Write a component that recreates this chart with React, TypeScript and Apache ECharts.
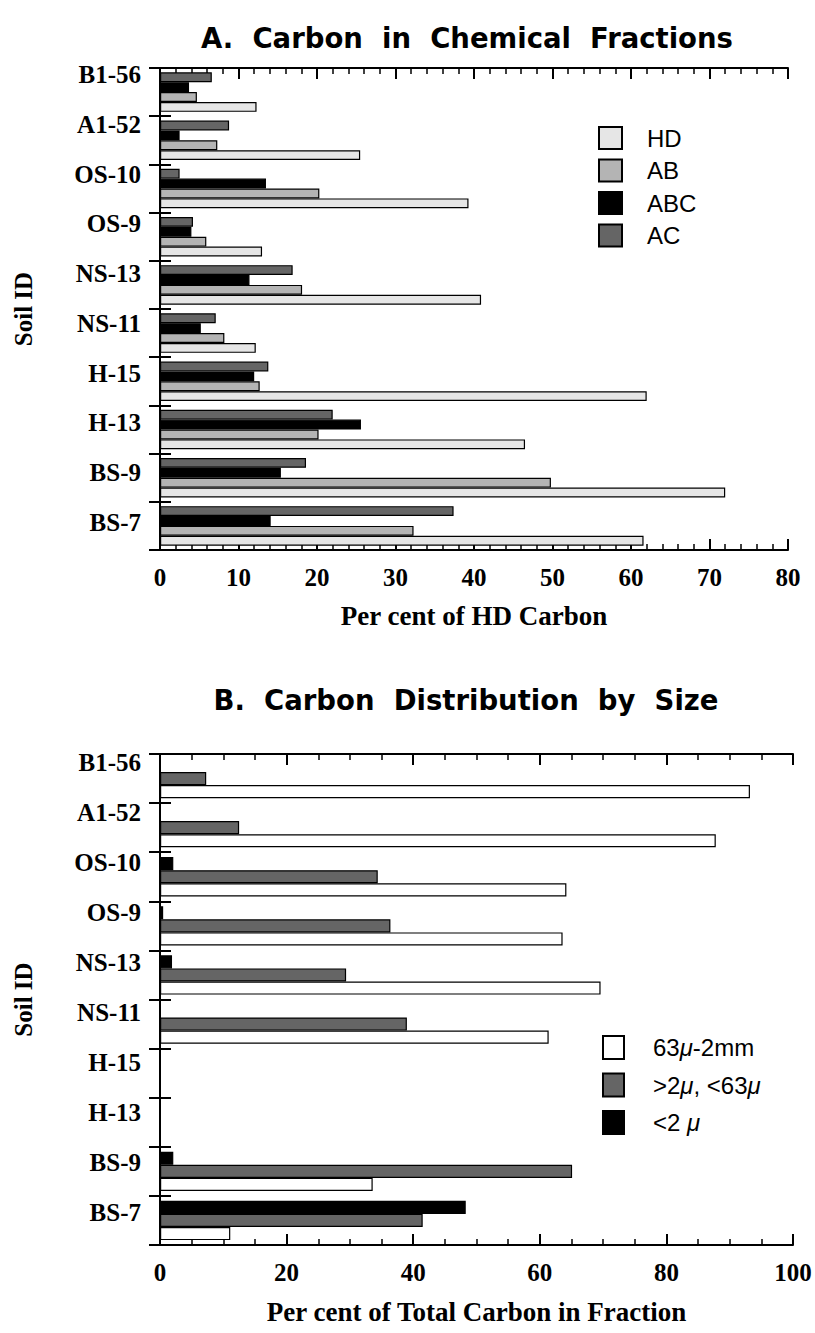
import React, { useEffect, useRef } from 'react';
import * as echarts from 'echarts';

const soilIds = ['B1-56', 'A1-52', 'OS-10', 'OS-9', 'NS-13', 'NS-11', 'H-15', 'H-13', 'BS-9', 'BS-7'];

// A. Carbon in Chemical Fractions (Per cent of HD Carbon)
const hdValues = [12.3, 25.5, 39.3, 13.0, 40.9, 12.2, 62.0, 46.5, 72.0, 61.6];
const abValues = [4.7, 7.3, 20.3, 5.9, 18.1, 8.2, 12.7, 20.2, 49.8, 32.3];
const abcValues = [3.7, 2.5, 13.5, 4.0, 11.4, 5.2, 12.0, 25.6, 15.4, 14.1];
const acValues = [6.6, 8.8, 2.5, 4.2, 16.9, 7.1, 13.8, 22.0, 18.6, 37.4];

// B. Carbon Distribution by Size (Per cent of Total Carbon in Fraction)
const coarseValues = [93.2, 87.8, 64.2, 63.6, 69.6, 61.4, null, null, 33.6, 11.1];
const siltValues = [7.3, 12.5, 34.4, 36.4, 29.4, 39.0, null, null, 65.1, 41.5];
const clayValues = [null, null, 2.1, 0.5, 1.9, null, null, null, 2.1, 48.3];

const legendA = ['HD', 'AB', 'ABC', 'AC'];
const legendB = ['63μ-2mm', '>2μ, <63μ', '<2 μ'];

const SERIF = '"Liberation Serif", "Times New Roman", serif';
const SANS = '"Liberation Sans", Arial, sans-serif';
const TITLE_FONT = '"DejaVu Sans", sans-serif';

function valueAxis(gridIndex: number, position: string, max: number, interval: number, minorSplit: number, showLabel: boolean, name?: string, nameGap?: number) {
  return {
    type: 'value', gridIndex, position, min: 0, max, interval,
    axisLine: { show: true, lineStyle: { color: '#000', width: 2 } },
    axisTick: { show: true, inside: true, length: 11, lineStyle: { color: '#000', width: 2 } },
    minorTick: { show: true, splitNumber: minorSplit, length: 6, lineStyle: { color: '#000', width: 1.5 } },
    splitLine: { show: false },
    minorSplitLine: { show: false },
    axisLabel: { show: showLabel, fontFamily: SERIF, fontWeight: 'bold', fontSize: 25, color: '#000', margin: 15 },
    name: name || '', nameLocation: 'middle', nameGap: nameGap || 0,
    nameTextStyle: { fontFamily: SERIF, fontWeight: 'bold', fontSize: 27, color: '#000' },
  };
}

function catAxis(gridIndex: number, position: string, name?: string) {
  return {
    type: 'category', gridIndex, position, inverse: true, data: soilIds, boundaryGap: true,
    axisLine: { show: true, lineStyle: { color: '#000', width: 2 } },
    axisTick: { show: true, inside: true, length: 11, lineStyle: { color: '#000', width: 2 } },
    axisLabel: { show: false },
    splitLine: { show: false },
    name: name || '', nameLocation: 'middle', nameGap: 124, nameRotate: 90,
    nameTextStyle: { fontFamily: SERIF, fontWeight: 'bold', fontSize: 25, color: '#000' },
  };
}

function labelAxis(gridIndex: number) {
  return {
    type: 'category', gridIndex, position: 'left', inverse: true, data: soilIds,
    axisLine: { show: false }, axisTick: { show: false }, splitLine: { show: false },
    axisLabel: { show: true, fontFamily: SERIF, fontWeight: 'bold', fontSize: 25, color: '#000', margin: 19 },
  };
}

function hiddenX(gridIndex: number) {
  return { type: 'value', gridIndex, min: 0, max: 1, show: false };
}

function barSeries(name: string, data: (number | null)[], color: string, xi: number, yi: number, gap: string) {
  return {
    type: 'bar', name, data, xAxisIndex: xi, yAxisIndex: yi,
    barGap: '0%', barCategoryGap: gap,
    itemStyle: { color, borderColor: '#000', borderWidth: 1.2 },
    emphasis: { disabled: true },
  };
}

export default function App() {
  const ref = useRef<HTMLDivElement>(null);
  useEffect(() => {
    if (!ref.current) return;
    const chart = echarts.init(ref.current, null, { renderer: 'svg' });
    const option = {
      animation: false,
      backgroundColor: '#fff',
      grid: [
        { left: 160, top: 68, width: 628, height: 482 },
        { left: 160, top: 754, width: 633, height: 491 },
        { left: 160, top: 50, width: 628, height: 497 },
        { left: 160, top: 737, width: 633, height: 500 },
      ],
      xAxis: [
        valueAxis(0, 'bottom', 80, 10, 5, true, 'Per cent of HD Carbon', 52),
        valueAxis(0, 'top', 80, 10, 5, false),
        valueAxis(1, 'bottom', 100, 20, 4, true, 'Per cent of Total Carbon in Fraction', 53),
        valueAxis(1, 'top', 100, 20, 4, false),
        hiddenX(2),
        hiddenX(3),
      ],
      yAxis: [
        catAxis(0, 'left', 'Soil ID'),
        catAxis(0, 'right'),
        catAxis(1, 'left', 'Soil ID'),
        catAxis(1, 'right'),
        labelAxis(2),
        labelAxis(3),
      ],
      legend: [
        {
          data: legendA, orient: 'vertical', left: 593, top: 121, icon: 'rect',
          itemWidth: 23, itemHeight: 22, itemGap: 8.5, selectedMode: false,
          textStyle: { fontFamily: SANS, fontSize: 24, lineHeight: 22, color: '#000', padding: [0, 0, 0, 20] },
        },
        {
          data: legendB, orient: 'vertical', left: 597, top: 1030, icon: 'rect',
          itemWidth: 21, itemHeight: 23, itemGap: 12.5, selectedMode: false,
          formatter: (n: string) => n.replace(/μ/g, '{i|μ}'),
          textStyle: {
            fontFamily: SANS, fontSize: 24, lineHeight: 23, color: '#000', padding: [0, 0, 0, 24],
            rich: { i: { fontFamily: SANS, fontSize: 24, lineHeight: 23, fontStyle: 'italic', color: '#000' } },
          },
        },
      ],
      graphic: [
        { type: 'text', style: { text: 'A.  Carbon  in  Chemical  Fractions', x: 467, y: 38, align: 'center', verticalAlign: 'middle', font: `bold 27.5px ${TITLE_FONT}`, fill: '#000' } },
        { type: 'text', style: { text: 'B.  Carbon  Distribution  by  Size', x: 466, y: 700, align: 'center', verticalAlign: 'middle', font: `bold 27.5px ${TITLE_FONT}`, fill: '#000' } },
      ],
      series: [
        barSeries('AC', acValues, '#656565', 0, 0, '18%'),
        barSeries('ABC', abcValues, '#000000', 0, 0, '18%'),
        barSeries('AB', abValues, '#b4b4b4', 0, 0, '18%'),
        barSeries('HD', hdValues, '#e6e6e6', 0, 0, '18%'),
        barSeries('<2 μ', clayValues, '#000000', 2, 2, '20%'),
        barSeries('>2μ, <63μ', siltValues, '#656565', 2, 2, '20%'),
        barSeries('63μ-2mm', coarseValues, '#ffffff', 2, 2, '20%'),
      ],
    };
    chart.setOption(option as any);
    return () => chart.dispose();
  }, []);
  return <div ref={ref} style={{ position: 'absolute', left: 0, top: 0, width: 815, height: 1333 }} />;
}
